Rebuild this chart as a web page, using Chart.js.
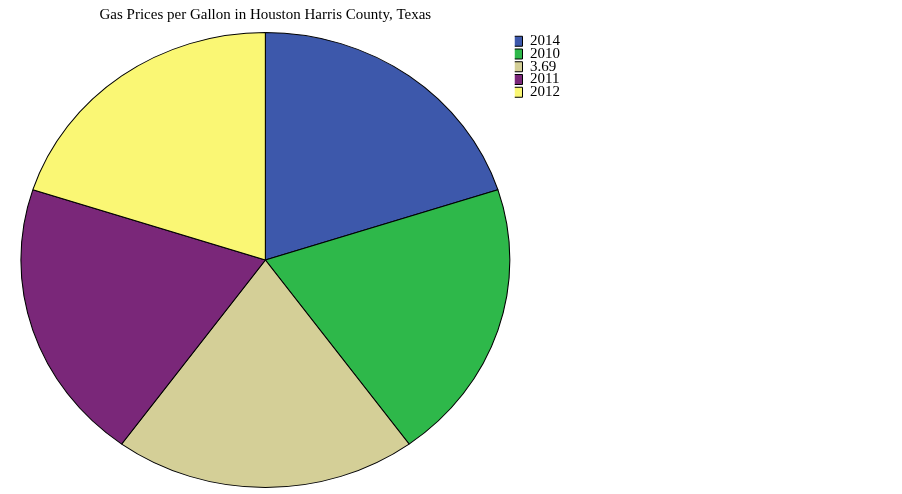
<!DOCTYPE html>
<html>
<head>
<meta charset="utf-8">
<script src="https://cdn.jsdelivr.net/npm/chart.js@4"></script>
<style>
  html, body { margin: 0; padding: 0; background: #fff; }
  #wrap { width: 902px; height: 494px; }
</style>
</head>
<body>
<div id="wrap"><canvas id="gasChart" width="902" height="494"></canvas></div>
<script>
const categories = ['2014', '2010', '3.69', '2011', '2012'];
const counts = [1, 1, 1, 1, 1];
const sliceColors = ['#3d58ab', '#2eb84a', '#d4cf97', '#7a2779', '#faf774'];

// SPSS draws the pie a bit wider than tall, so stretch the arcs horizontally
const ellipsePlugin = {
    id: 'ellipse',
    beforeDatasetsDraw(chart) {
        const arc = chart.getDatasetMeta(0).data[0];
        const ctx = chart.ctx;
        ctx.save();
        ctx.translate(arc.x, arc.y);
        ctx.scale(245 / 228, 1);
        ctx.translate(-arc.x, -arc.y);
    },
    afterDatasetsDraw(chart) {
        chart.ctx.restore();
    }
};

const ctx = document.getElementById('gasChart').getContext('2d');
new Chart(ctx, {
    type: 'pie',
    data: {
        labels: categories,
        datasets: [{
            data: counts,
            backgroundColor: sliceColors,
            borderColor: '#000',
            borderWidth: 1
        }]
    },
    options: {
        responsive: false,
        animation: false,
        devicePixelRatio: 1,
        layout: {
            padding: { left: 16, right: 332, top: 0, bottom: 6 }
        },
        plugins: {
            title: {
                display: true,
                text: 'Gas Prices per Gallon in Houston Harris County, Texas',
                fullSize: false,
                color: '#000',
                font: { family: 'Liberation Serif', size: 15, weight: 'normal', lineHeight: 1.2 },
                padding: { top: 6, bottom: 8 }
            },
            legend: {
                position: 'right',
                align: 'start',
                fullSize: false,
                title: {
                    // empty title, only used to push the items down a little
                    display: true,
                    text: ' ',
                    font: { size: 1, lineHeight: 1 },
                    padding: { top: 3, bottom: 0 }
                },
                labels: {
                    color: '#000',
                    boxWidth: 10,
                    boxHeight: 10,
                    padding: -2.25,
                    font: { family: 'Liberation Serif', size: 15 }
                }
            },
            tooltip: { enabled: false }
        }
    },
    plugins: [ellipsePlugin]
});
</script>
</body>
</html>
